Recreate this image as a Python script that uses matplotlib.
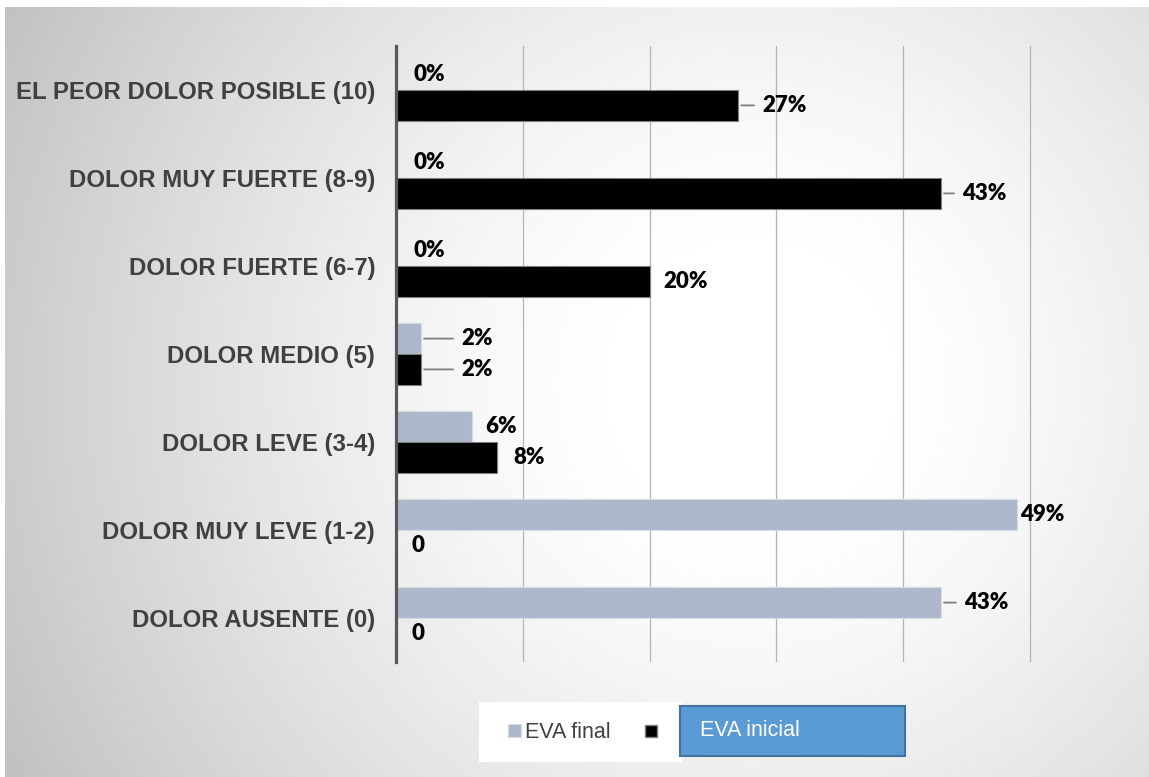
import numpy as np
import matplotlib
matplotlib.use("Agg")
import matplotlib.pyplot as plt
from matplotlib.patches import Rectangle

W, H = 1149, 777

categories = ["EL PEOR DOLOR POSIBLE (10)", "DOLOR MUY FUERTE (8-9)", "DOLOR FUERTE (6-7)",
              "DOLOR MEDIO (5)", "DOLOR LEVE (3-4)", "DOLOR MUY LEVE (1-2)", "DOLOR AUSENTE (0)"]
eva_final = [0, 0, 0, 2, 6, 49, 43]
eva_inicial = [27, 43, 20, 2, 8, 0, 0]
final_labels = ["0%", "0%", "0%", "2%", "6%", "49%", "43%"]
inicial_labels = ["27%", "43%", "20%", "2%", "8%", "0", "0"]

# label offsets in pixels from bar end, and whether a leader line is drawn
final_off = [18, 18, 18, 40, 13, 3, 23]
final_lead = [False, False, False, True, False, False, True]
inicial_off = [24, 21, 14, 40, 16, 16, 16]
inicial_lead = [True, True, False, True, False, False, False]

C_FINAL = "#adb9ca"
C_INI = "#000000"
C_TEXT = "#404040"


def fx(px):
    return px / W


def fy(py):
    return 1 - py / H


fig = plt.figure(figsize=(W / 100, H / 100), dpi=100)
fig.patch.set_facecolor("white")

# radial gradient background
bg = fig.add_axes([fx(5), 0, 1 - fx(5), fy(7)])
xx, yy = np.meshgrid(np.linspace(0, W, 400), np.linspace(0, H, 300))
d = np.hypot(xx - 750, yy - 380)
d = np.clip((d - 150) / 690, 0, 1)
g = 1 - 0.24 * d ** 1.3
bg.imshow(np.dstack([g, g, g]), aspect="auto", extent=[0, 1, 0, 1])
bg.axis("off")
bg.set_zorder(-10)

XMAX = 50.3
ax = fig.add_axes([fx(396), fy(662), fx(396 + XMAX * 12.68) - fx(396), fy(46) - fy(662)])
ax.set_facecolor("none")

y = np.arange(len(categories))
h = 0.35
ax.barh(y - h / 2, eva_final, height=h, color=C_FINAL, edgecolor="#d6dce5", linewidth=0.8, zorder=3)
ax.barh(y + h / 2, eva_inicial, height=h, color=C_INI, edgecolor="#7f7f7f", linewidth=0.8, zorder=3)

ax.set_xlim(0, XMAX)
ax.set_ylim(len(categories) - 0.5, -0.5)
ax.set_xticks([10, 20, 30, 40, 50])
ax.xaxis.grid(True, color="#b4b4b4", linewidth=0.9)
ax.set_axisbelow(True)
ax.tick_params(axis="x", length=0, labelbottom=False)
ax.tick_params(axis="y", length=0, pad=15)
ax.set_yticks(y)
ax.set_yticklabels(categories, fontsize=17.3, fontweight="bold", color=C_TEXT,
                   family="Liberation Sans")
for s in ["top", "right", "bottom"]:
    ax.spines[s].set_visible(False)
ax.spines["left"].set_color("#595959")
ax.spines["left"].set_linewidth(2.3)
ax.spines["left"].set_zorder(5)

lab_font = dict(fontsize=16, fontweight="heavy", family="Lato", color="black", va="center", ha="left")


def label(val, yy, txt, off, lead):
    arrow = None
    if lead:
        arrow = dict(arrowstyle="-", color="#7f7f7f", lw=1.3, shrinkA=4, shrinkB=2)
    ax.annotate(txt, xy=(val, yy), xytext=(off, 0), textcoords="offset pixels",
                arrowprops=arrow, annotation_clip=False, **lab_font)


for i in range(len(categories)):
    label(eva_final[i], y[i] - h / 2, final_labels[i], final_off[i], final_lead[i])
    label(eva_inicial[i], y[i] + h / 2, inicial_labels[i], inicial_off[i], inicial_lead[i])

# legend, drawn the way the original shows it
fig.patches.append(Rectangle((fx(479), fy(762)), fx(682) - fx(479), fy(702) - fy(762),
                             transform=fig.transFigure, facecolor="white", edgecolor="none", zorder=2))
fig.patches.append(Rectangle((fx(508), fy(737)), fx(13), fy(724) - fy(737),
                             transform=fig.transFigure, facecolor=C_FINAL, edgecolor="#d6dce5", lw=0.8, zorder=3))
fig.text(fx(525), fy(732), "EVA final", fontsize=15.5, color=C_TEXT, family="Liberation Sans",
         va="center", ha="left", zorder=4)
fig.patches.append(Rectangle((fx(645), fy(737)), fx(12), fy(725) - fy(737),
                             transform=fig.transFigure, facecolor="black", edgecolor="#7f7f7f", lw=1, zorder=3))
fig.patches.append(Rectangle((fx(680), fy(756)), fx(905) - fx(680), fy(706) - fy(756),
                             transform=fig.transFigure, facecolor="#5b9bd5", edgecolor="#41719c", lw=1.5, zorder=3))
fig.text(fx(700), fy(731), "EVA inicial", fontsize=15.5, color="white", family="Liberation Sans",
         va="center", ha="left", zorder=4)

fig.savefig("out.png", dpi=100)
